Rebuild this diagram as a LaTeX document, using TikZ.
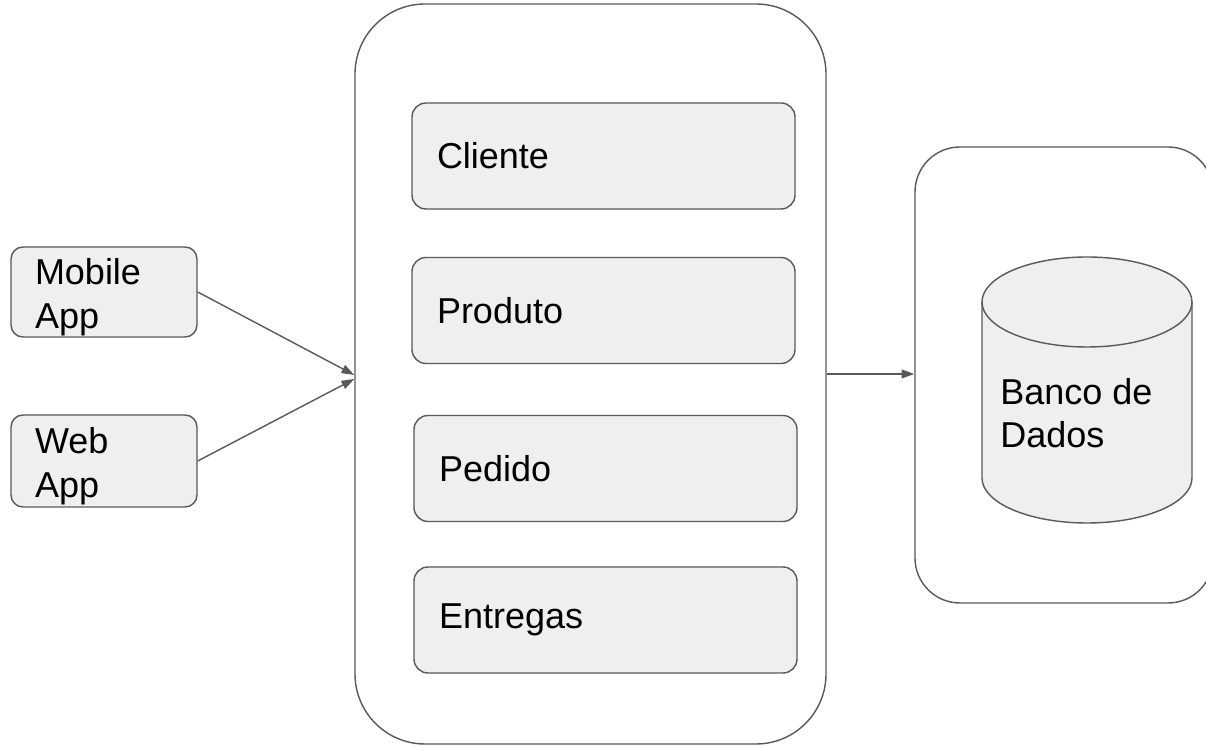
\documentclass[tikz,border=0pt]{standalone}
\usepackage{fontspec}
\setmainfont{Liberation Sans}
\usetikzlibrary{arrows.meta,positioning}
\definecolor{edgegray}{HTML}{595959}
\definecolor{boxfill}{HTML}{EFEFEF}
\tikzset{
  outerbox/.style={draw=edgegray, line width=1pt, fill=white},
  modbox/.style={draw=edgegray, line width=1pt, fill=boxfill, rounded corners=0.35cm,
    inner xsep=0.625cm, text width=8.325cm, align=left,
    minimum width=9.575cm, minimum height=2.65cm},
  appbox/.style={draw=edgegray, line width=1pt, fill=boxfill, rounded corners=0.3cm,
    inner xsep=0.6cm, inner ysep=0pt, text width=3.45cm, align=left,
    minimum width=4.65cm, execute at begin node={\rule{0pt}{0.9cm}}},
  flow/.style={draw=edgegray, line width=1pt, -{Triangle[length=0.32cm, width=0.22cm]}}
}
\begin{document}
\begin{tikzpicture}[font=\fontsize{25.6}{31}\selectfont]
\clip (0,0) rectangle (30.15,18.675);
% client apps
\node[appbox, minimum height=2.25cm] (mobile) at (2.6,11.375) {Mobile\\App};
\node[appbox, minimum height=2.3cm] (web) at (2.6,7.15) {Web\\App};
% service container
\node[outerbox, rounded corners=1.75cm, minimum width=11.775cm, minimum height=18.5cm] (main) at (14.7625,9.325) {};
\node[modbox] (cliente) at (15.0875,14.775) {Cliente};
\node[modbox] (produto) at (15.0875,10.9125) {Produto};
\node[modbox] (pedido) at (15.1375,6.9625) {Pedido};
\node[modbox] (entregas) at (15.1375,3.175) {Entregas};
% database container
\node[outerbox, rounded corners=1.125cm, minimum width=7.45cm, minimum height=11.4cm] (dbbox) at (26.6,9.3) {};
\draw[draw=edgegray, line width=1pt, fill=boxfill]
  (24.55,11.125) -- (24.55,6.725)
  arc[start angle=180, end angle=360, x radius=2.625cm, y radius=1.125cm]
  -- (29.8,11.125)
  arc[start angle=0, end angle=180, x radius=2.625cm, y radius=1.125cm] -- cycle;
\draw[draw=edgegray, line width=1pt]
  (24.55,11.125) arc[start angle=180, end angle=360, x radius=2.625cm, y radius=1.125cm];
\node[anchor=west, inner sep=0pt, align=left] (dblabel) at (25.0,8.35) {Banco de\\Dados};
% connectors
\draw[flow] (mobile.east) -- ([yshift=-0.025cm]main.west);
\draw[flow] (web.east) -- ([yshift=-0.125cm]main.west);
\draw[flow] (main.east) -- (main.east -| dbbox.west);
\end{tikzpicture}
\end{document}
